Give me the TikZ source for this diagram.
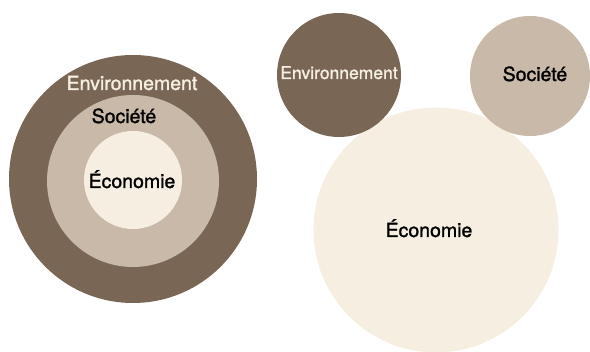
\documentclass[tikz,border=0pt]{standalone}
\usepackage{fontspec}
\setmainfont{TeX Gyre Heros}[FakeBold=1.3]
\definecolor{brun}{HTML}{7A6654}
\definecolor{sable}{HTML}{C9B9A8}
\definecolor{creme}{HTML}{F6EEE0}
\definecolor{clair}{HTML}{F5EEE2}
\tikzset{disque/.style={circle,draw=none,inner sep=0pt,outer sep=0pt},
  mot/.style={anchor=base,inner sep=0pt,font=\fontsize{19.5}{19.5}\selectfont}}
\begin{document}
\begin{tikzpicture}[x=1pt,y=-1pt]
  \clip (0,0) rectangle (590,352);
  % cercles emboites
  \node[disque,fill=brun,minimum size=248pt](envA) at (133,179){};
  \node[disque,fill=sable,minimum size=172pt](socA) at (133,181){};
  \node[disque,fill=creme,minimum size=98pt](ecoA) at (133,180){};
  \node[mot,text=clair](tEnvA) at (132,90){Environnement};
  \node[mot](tSocA) at (124,123){Société};
  \node[mot](tEcoA) at (132,188){Économie};
  % cercles separes
  \node[disque,fill=creme,minimum size=245pt](ecoB) at (436,230){};
  \node[disque,fill=brun,minimum size=124pt](envB) at (339,75){};
  \node[disque,fill=sable,minimum size=120pt](socB) at (530,76){};
  \node[mot,text=clair,font=\fontsize{17.5}{17.5}\selectfont](tEnvB) at (339,79){Environnement};
  \node[mot](tSocB) at (535,81){Société};
  \node[mot](tEcoB) at (429,237){Économie};
\end{tikzpicture}
\end{document}
